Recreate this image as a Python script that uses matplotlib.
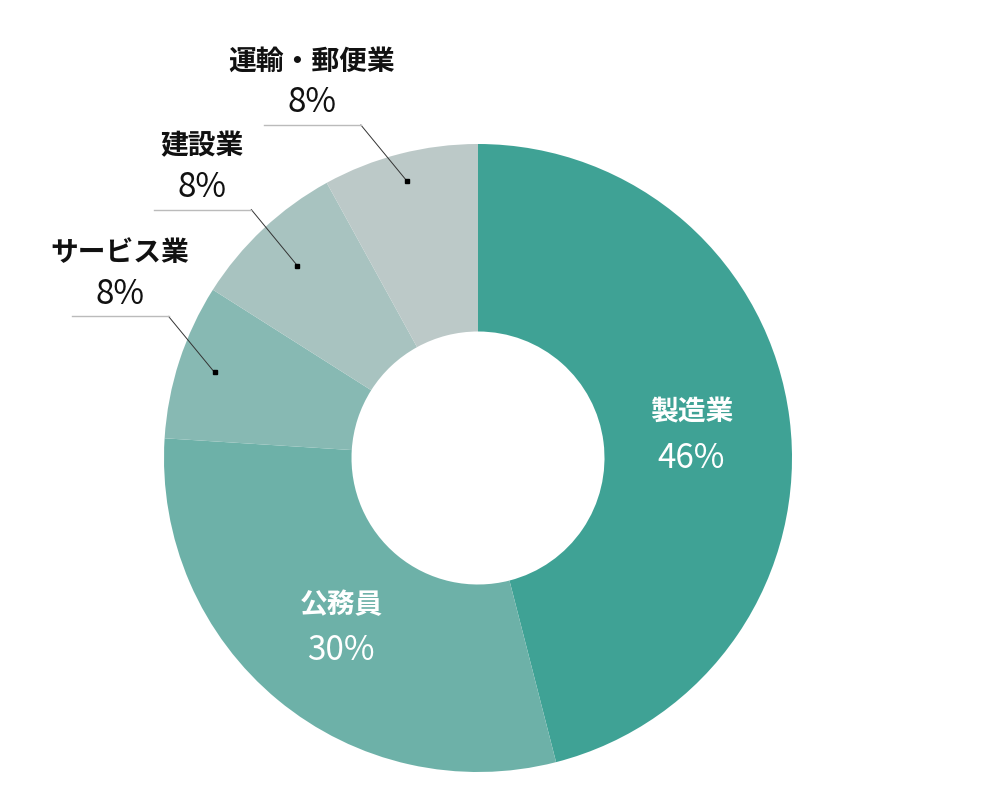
import numpy as np
import matplotlib
matplotlib.use("Agg")
import matplotlib.pyplot as plt

plt.rcParams["font.family"] = ["Noto Sans CJK JP", "DejaVu Sans"]

# data ------------------------------------------------------------------
labels = ["製造業", "公務員", "サービス業", "建設業", "運輸・郵便業"]
shares = [46, 30, 8, 8, 8]
colors = ["#3fa295", "#6db1a8", "#87b9b3", "#a8c3c0", "#bcc9c8"]
inside = [True, True, False, False, False]

# layout (pixels, y up) --------------------------------------------------
W, H = 990, 788
cx, cy = 478, 788 - 458
R = 314
R_in = 126.5
dot_r = {2: 277, 3: 264, 4: 286}   # leader dot radius per outside label

fig = plt.figure(figsize=(W / 100, H / 100), dpi=100)
ax = fig.add_axes([0, 0, 1, 1])

wedges, _ = ax.pie(
    shares, colors=colors, startangle=90, counterclock=False,
    center=(cx, cy), radius=R, frame=True,
    wedgeprops=dict(width=R - R_in, linewidth=0),
)
ax.set_xlim(0, W)
ax.set_ylim(0, H)
ax.set_aspect("equal")
ax.axis("off")

for i, w in enumerate(wedges):
    mid = np.deg2rad((w.theta1 + w.theta2) / 2)
    if inside[i]:
        r = 215
        x = cx + r * np.cos(mid)
        y = cy + r * np.sin(mid)
        ax.text(x, y + 19, labels[i], ha="center", va="center",
                color="white", fontsize=20, fontweight="bold")
        ax.text(x, y - 27, f"{shares[i]}%", ha="center", va="center",
                color="white", fontsize=24)
    else:
        r = dot_r[i]
        dx = cx + r * np.cos(mid)
        dy = cy + r * np.sin(mid)
        ex, ey = dx - 46, dy + 56
        ax.plot([dx, ex], [dy, ey], color="#333333", lw=0.7)
        ax.plot([ex - 97, ex], [ey, ey], color="#bbbbbb", lw=1.0)
        ax.plot(dx, dy, "s", color="black", ms=2.2)
        tx = ex - 49
        ax.text(tx, ey + 63, labels[i], ha="center", va="center",
                color="#111111", fontsize=20, fontweight="bold")
        ax.text(tx, ey + 22, f"{shares[i]}%", ha="center", va="center",
                color="#111111", fontsize=24)

fig.savefig("out.png", dpi=100)
